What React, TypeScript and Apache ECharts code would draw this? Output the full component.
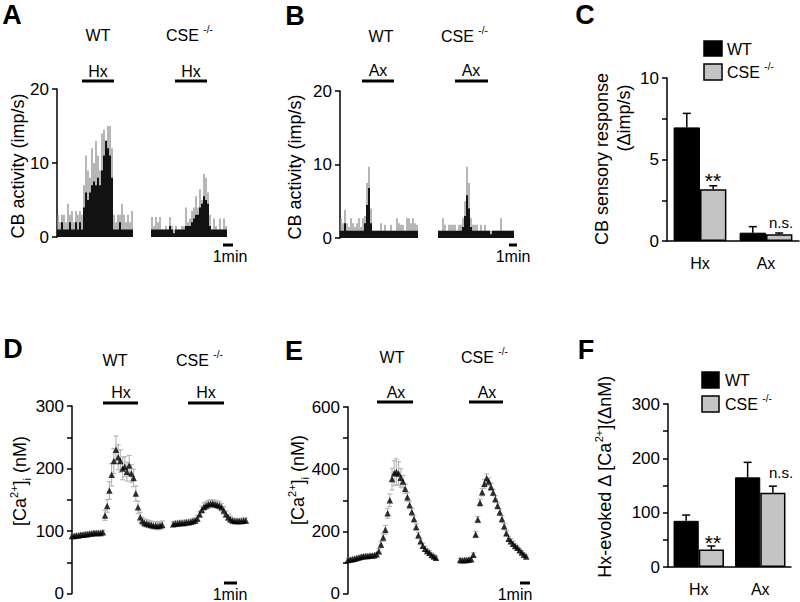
import React, { useEffect, useRef } from 'react';
import * as echarts from 'echarts';

const FONT = "'Liberation Sans', Arial, Helvetica, sans-serif";

// ---------- Panel A: CB activity histograms (imp/s), 2-px bins ----------
const aWtPeak = [3, 2, 3, 3, 2, 4.5, 3, 3.5, 2, 3.5, 3, 3.5, 3, 7, 11, 9, 8, 12, 10, 13, 11, 9, 14, 14.5, 13, 15, 15, 12, 3, 2, 3, 3, 4.5, 3, 2, 3, 2, 3.5];
const aWtCore = [1, 1, 2, 1, 1, 1, 2, 1, 1, 2, 1, 2, 1, 4, 6, 5, 6, 7, 7.5, 7, 8, 7, 9, 11, 13, 12, 11, 8, 1, 1, 1, 2, 1, 1, 1, 1, 1, 1];
const aCsePeak = [2.7, 1.5, 2.7, 2, 2.7, 1, 1, 1.5, 1, 2.7, 1.5, 1, 1.5, 1, 1, 1.5, 1.5, 4, 2, 2.5, 3.5, 4, 5.5, 4, 6.5, 5, 8.5, 8, 6, 3, 1, 2.5, 1.5, 1, 2.5, 1, 2.5, 1.5];
const aCseCore = [1, 1, 1, 1, 1, 1, 1, 1, 1, 1.5, 1, 0.5, 1, 1, 1, 1, 1, 1.5, 1.5, 1.5, 2, 2.5, 3, 3, 4, 4.5, 5.5, 5, 4.5, 1.5, 1, 1, 1, 1, 1, 1, 1, 1];
const aGapBins = 9;

// ---------- Panel B ----------
const bWtPeak = [2.7, 2, 3.8, 2, 1.5, 2.7, 2, 1.5, 2, 2.7, 1.5, 2.7, 3, 7.5, 9.7, 4, 1, 1, 1, 1, 2, 1, 1.8, 1, 1, 1.8, 1, 1, 2.7, 2, 1.8, 1.8, 1, 2.7, 2.7, 2, 2.7, 2, 1.8];
const bWtCore = [1, 1, 2, 1, 1, 1, 1, 1, 1, 1, 1, 1, 2, 4.5, 6.8, 2, 1, 1, 1, 1, 1, 1, 1, 1, 1, 1, 1, 1, 1, 1, 1, 1, 1, 1, 1, 1, 1, 1, 1];
const bCsePeak = [1, 1, 2.7, 1.8, 1, 1.8, 1.8, 1.8, 1.8, 1, 1.8, 1.8, 2.7, 5, 9.7, 7.5, 2.7, 1.8, 1.8, 1.8, 1, 1.8, 1, 1.8, 1, 1, 1, 1, 1, 1, 1, 2.7, 1, 1, 1, 1, 1, 1];
const bCseCore = [1, 1, 1, 1, 1, 1, 1, 1, 1, 1, 1, 1, 1.5, 3, 5.8, 4, 1.5, 1, 1, 1, 1, 1, 1, 1, 1, 1, 0.5, 1, 1, 1, 1, 1, 1, 1, 1, 1, 1, 1];
const bGapBins = 10;

// ---------- Panel C: CB sensory response (Δimp/s) ----------
const groups = ['Hx', 'Ax'];
const cWT = [6.97, 0.51];
const cWTErr = [0.86, 0.37];
const cCSE = [3.17, 0.41];
const cCSEErr = [0.22, 0.08];

// ---------- Panel D: [Ca2+]i (nM), 10-s samples ----------
const SAMPLE_S = 10;
const dWt = [92, 92, 93, 93, 94, 94, 95, 95, 96, 96, 97, 97, 97, 97, 98, 125, 140, 165, 190, 212, 230, 218, 212, 200, 203, 195, 205, 192, 185, 160, 138, 122, 116, 113, 112, 111, 110, 109, 109, 108, 109, 110];
const dWtErr = [3, 3, 3, 3, 3, 3, 3, 3, 3, 3, 3, 3, 3, 3, 3, 8, 10, 14, 18, 20, 22, 20, 18, 18, 16, 15, 16, 14, 14, 12, 10, 8, 6, 6, 6, 6, 6, 6, 6, 6, 6, 6];
const dCseStart = 460;
const dCse = [111, 112, 112, 113, 113, 113, 114, 114, 115, 116, 117, 120, 127, 134, 139, 141, 143, 144, 144, 143, 142, 141, 138, 133, 127, 122, 119, 117, 116, 116, 116, 116, 117, 117];
const dCseErr = [4, 4, 4, 4, 4, 4, 4, 4, 4, 4, 4, 5, 5, 6, 6, 6, 6, 6, 6, 6, 6, 6, 6, 6, 5, 5, 5, 4, 4, 4, 4, 4, 4, 4];

// ---------- Panel E ----------
const eWt = [108, 109, 110, 112, 114, 116, 118, 120, 121, 121, 122, 122, 123, 126, 136, 158, 180, 205, 258, 300, 368, 387, 391, 386, 372, 360, 337, 310, 285, 262, 240, 214, 187, 168, 154, 144, 137, 131, 124, 119, 115];
const eWtErr = [5, 5, 5, 5, 5, 5, 5, 5, 5, 5, 5, 5, 5, 6, 8, 10, 12, 14, 16, 20, 35, 40, 42, 38, 30, 20, 15, 14, 12, 12, 10, 10, 10, 8, 8, 8, 6, 6, 6, 6, 6];
const eCseStart = 510;
const eCse = [108, 107, 108, 108, 109, 110, 125, 190, 238, 292, 326, 353, 371, 360, 343, 325, 304, 282, 261, 240, 216, 194, 176, 168, 160, 153, 147, 139, 132, 125, 119];
const eCseErr = [5, 5, 5, 5, 5, 5, 6, 10, 10, 12, 12, 14, 14, 12, 12, 10, 10, 10, 10, 10, 10, 8, 8, 8, 8, 6, 6, 6, 6, 5, 5];

// ---------- Panel F: Hx-evoked Δ[Ca2+] (ΔnM) ----------
const fWT = [85, 165];
const fWTErr = [10.6, 27.6];
const fCSE = [32, 136.5];
const fCSEErr = [6.7, 12.3];

// ---------------- helpers ----------------
const nulls = (n: number) => Array.from({ length: n }, () => null as number | null);
const cats = (n: number) => Array.from({ length: n }, (_, i) => String(i));
const joinTrace = (a: number[], gap: number, b: number[]) => [...a, ...nulls(gap), ...b];

const aPeak = joinTrace(aWtPeak, aGapBins, aCsePeak);
const aCore = joinTrace(aWtCore, aGapBins, aCseCore);
const bPeak = joinTrace(bWtPeak, bGapBins, bCsePeak);
const bCore = joinTrace(bWtCore, bGapBins, bCseCore);

const TICK_FS = 17;
const NOTE_FS = 16;
const TITLE_FS = 18;

const hiddenCat = (gridIndex: number, n: number) => ({
  type: 'category', gridIndex, data: cats(n), show: false, boundaryGap: true,
});

const yAx = (gridIndex: number, max: number, interval: number, labelEvery: number) => ({
  type: 'value', gridIndex, min: 0, max, interval,
  axisLine: { show: true, onZero: false, lineStyle: { color: '#000', width: 1.5 } },
  axisTick: { show: true, length: 5, lineStyle: { color: '#000', width: 1.5 } },
  splitLine: { show: false },
  axisLabel: {
    fontSize: TICK_FS, color: '#000', margin: 8, fontFamily: FONT,
    formatter: (v: number) => (Math.abs(v % labelEvery) < 1e-6 ? String(v) : ''),
  },
});

const catAx = (gridIndex: number) => ({
  type: 'category', gridIndex, data: groups,
  axisLine: { show: true, lineStyle: { color: '#000', width: 1.5 } },
  axisTick: { show: false },
  axisLabel: { fontSize: NOTE_FS, color: '#000', margin: 14, fontFamily: FONT },
});

const timeAx = (gridIndex: number, max: number) => ({
  type: 'value', gridIndex, min: 0, max, show: false,
});

const traceErrSeries = (xi: number, yi: number, vals: number[], errs: number[], start: number) => ({
  type: 'custom', xAxisIndex: xi, yAxisIndex: yi, silent: true, z: 2,
  data: vals.map((v, i) => [start + i * SAMPLE_S, v, errs[i]]),
  encode: { x: 0, y: 1 },
  renderItem: (_p: any, api: any) => {
    const t = api.value(0), v = api.value(1), e = api.value(2);
    const top = api.coord([t, v + e]);
    const bot = api.coord([t, v - e]);
    const st = { stroke: '#b8b8b8', lineWidth: 1.2 };
    return {
      type: 'group', children: [
        { type: 'line', shape: { x1: top[0], y1: top[1], x2: bot[0], y2: bot[1] }, style: st },
        { type: 'line', shape: { x1: top[0] - 2.5, y1: top[1], x2: top[0] + 2.5, y2: top[1] }, style: st },
        { type: 'line', shape: { x1: bot[0] - 2.5, y1: bot[1], x2: bot[0] + 2.5, y2: bot[1] }, style: st },
      ],
    };
  },
});

const traceSeries = (xi: number, yi: number, vals: number[], start: number) => ({
  type: 'scatter', xAxisIndex: xi, yAxisIndex: yi, z: 3,
  data: vals.map((v, i) => [start + i * SAMPLE_S, v]),
  symbol: 'triangle', symbolSize: 6.5, itemStyle: { color: '#000' },
});

const barErrSeries = (xi: number, yi: number, means: number[], errs: number[], off: number) => ({
  type: 'custom', xAxisIndex: xi, yAxisIndex: yi, silent: true, z: 4,
  data: means.map((m, i) => [i, m, errs[i], off]),
  encode: { x: 0, y: 1 },
  renderItem: (_p: any, api: any) => {
    const band = api.size([1, 0])[0];
    const base = api.coord([api.value(0), api.value(1)]);
    const top = api.coord([api.value(0), api.value(1) + api.value(2)]);
    const cx = base[0] + api.value(3) * band;
    const st = { stroke: '#000', lineWidth: 1.5 };
    return {
      type: 'group', children: [
        { type: 'line', shape: { x1: cx, y1: base[1], x2: cx, y2: top[1] }, style: st },
        { type: 'line', shape: { x1: cx - 4, y1: top[1], x2: cx + 4, y2: top[1] }, style: st },
      ],
    };
  },
});

const barPair = (xi: number, yi: number, wt: number[], cse: number[], width: string) => [
  {
    type: 'bar', name: 'WT', xAxisIndex: xi, yAxisIndex: yi, data: wt, barWidth: width, barGap: '0%',
    itemStyle: { color: '#000', borderColor: '#000', borderWidth: 1 },
  },
  {
    type: 'bar', name: 'CSE -/-', xAxisIndex: xi, yAxisIndex: yi, data: cse, barWidth: width, barGap: '0%',
    itemStyle: { color: '#c4c4c4', borderColor: '#000', borderWidth: 1.5 },
  },
];

// ---------- graphic helpers ----------
const txt = (text: string, x: number, y: number, size: number, align = 'center', extra: any = {}) => ({
  type: 'text', x, y, silent: true,
  style: {
    text, fontSize: size, fontFamily: FONT, fill: '#000',
    align, verticalAlign: 'middle', textAlign: align, textVerticalAlign: 'middle', ...extra,
  },
});
const letter = (t: string, x: number, y: number) => txt(t, x, y, 27, 'center', { fontWeight: 'bold' });
const hbar = (x1: number, x2: number, y: number, w = 3) => ({
  type: 'line', silent: true, shape: { x1, y1: y, x2, y2: y }, style: { stroke: '#000', lineWidth: w },
});
const richBase = (size: number) => ({
  m: { fontSize: size, fontFamily: FONT, fill: '#000', color: '#000', lineHeight: size + 6, verticalAlign: 'middle' },
  s: { fontSize: Math.round(size * 0.6), fontFamily: FONT, fill: '#000', color: '#000', lineHeight: size + 6, verticalAlign: 'top' },
  b: { fontSize: Math.round(size * 0.6), fontFamily: FONT, fill: '#000', color: '#000', lineHeight: size + 6, verticalAlign: 'bottom' },
});
const rich = (text: string, x: number, y: number, size: number, align = 'left', rotation = 0) => ({
  type: 'text', x, y, rotation, silent: true,
  style: {
    text, rich: richBase(size), fontSize: size, fontFamily: FONT, fill: '#000',
    align, verticalAlign: 'middle', textAlign: align, textVerticalAlign: 'middle',
  },
});
const cseTitle = (x: number, y: number) => rich('{m|CSE }{s|-/-}', x, y, NOTE_FS, 'left');
const vtitle = (t: string, x: number, y: number) => ({
  type: 'text', x, y, rotation: Math.PI / 2, silent: true,
  style: { text: t, fontSize: TITLE_FS, fontFamily: FONT, fill: '#000', align: 'center', verticalAlign: 'middle', textAlign: 'center', textVerticalAlign: 'middle' },
});
const box = (x: number, y: number, w: number, h: number, fill: string) => ({
  type: 'rect', silent: true, shape: { x, y, width: w, height: h }, style: { fill, stroke: '#000', lineWidth: 1.5 },
});

const graphics = [
  // Panel A
  letter('A', 12, 15),
  txt('WT', 98, 35, NOTE_FS),
  cseTitle(166, 35),
  txt('Hx', 98, 71, NOTE_FS), hbar(82, 114, 81),
  txt('Hx', 191, 71, NOTE_FS), hbar(175, 207, 81),
  hbar(223, 233, 245), txt('1min', 230, 256, NOTE_FS),
  vtitle('CB activity (imp/s)', 18, 166),
  // Panel B
  letter('B', 295, 16),
  txt('WT', 381, 36, NOTE_FS),
  cseTitle(441, 36),
  txt('Ax', 378, 70, NOTE_FS), hbar(362, 394, 81),
  txt('Ax', 471, 70, NOTE_FS), hbar(455, 488, 81),
  hbar(509, 517, 245), txt('1min', 513, 256, NOTE_FS),
  vtitle('CB activity (imp/s)', 295, 167),
  // Panel C
  letter('C', 585, 15),
  box(704, 41, 18, 15, '#000'), txt('WT', 727, 49, NOTE_FS, 'left'),
  box(704, 64, 18, 16, '#c4c4c4'), rich('{m|CSE }{s|-/-}', 727, 72, NOTE_FS, 'left'),
  txt('**', 713, 180, 21), txt('n.s.', 781, 222, 15),
  vtitle('CB sensory response', 602, 159),
  vtitle('(\u0394imp/s)', 624, 118),
  // Panel D
  letter('D', 13, 349),
  txt('WT', 115, 360, NOTE_FS),
  cseTitle(176, 360),
  txt('Hx', 121, 392, NOTE_FS), hbar(103, 138, 403),
  txt('Hx', 206, 392, NOTE_FS), hbar(188, 224, 403),
  hbar(224, 237, 583), txt('1min', 230, 594, NOTE_FS),
  rich('{m|[Ca}{s|2+}{m|]}{b|i}{m| (nM)}', 20, 481, TITLE_FS, 'center', Math.PI / 2),
  // Panel E
  letter('E', 294, 351),
  txt('WT', 392, 357, NOTE_FS),
  cseTitle(461, 357),
  txt('Ax', 396, 392, NOTE_FS), hbar(377, 413, 402),
  txt('Ax', 487, 392, NOTE_FS), hbar(469, 503, 402),
  hbar(520, 530, 583), txt('1min', 515, 594, NOTE_FS),
  rich('{m|[Ca}{s|2+}{m|]}{b|i}{m| (nM)}', 298, 480, TITLE_FS, 'center', Math.PI / 2),
  // Panel F
  letter('F', 586, 350),
  box(702, 372, 17, 16, '#000'), txt('WT', 725, 380, NOTE_FS, 'left'),
  box(702, 396, 17, 16, '#c4c4c4'), rich('{m|CSE }{s|-/-}', 725, 404, NOTE_FS, 'left'),
  txt('**', 713, 542, 21), txt('n.s.', 781, 472, 15),
  rich('{m|Hx-evoked \u0394 [Ca}{s|2+}{m|](\u0394nM)}', 605, 477, TITLE_FS, 'center', Math.PI / 2),
];

const option: any = {
  animation: false,
  backgroundColor: '#fff',
  textStyle: { fontFamily: FONT, color: '#000' },
  grid: [
    { left: 57, top: 89, width: 170, height: 148 },
    { left: 340, top: 91, width: 174, height: 147 },
    { left: 667, top: 78, width: 132, height: 163 },
    { left: 72, top: 406, width: 178.2, height: 190 },
    { left: 348, top: 407, width: 182.6, height: 189 },
    { left: 668, top: 404, width: 123, height: 163 },
  ],
  xAxis: [
    hiddenCat(0, aPeak.length),
    hiddenCat(0, aCore.length),
    hiddenCat(1, bPeak.length),
    hiddenCat(1, bCore.length),
    catAx(2),
    timeAx(3, 810),
    timeAx(4, 830),
    catAx(5),
  ],
  yAxis: [
    yAx(0, 20, 10, 10),
    yAx(1, 20, 10, 10),
    yAx(2, 10, 2.5, 5),
    yAx(3, 300, 50, 100),
    yAx(4, 600, 100, 200),
    yAx(5, 300, 50, 100),
  ],
  series: [
    { type: 'bar', xAxisIndex: 0, yAxisIndex: 0, data: aPeak, barWidth: 1.3, itemStyle: { color: '#8f8f8f' }, silent: true },
    { type: 'bar', xAxisIndex: 1, yAxisIndex: 0, data: aCore, barWidth: 1.8, itemStyle: { color: '#000' }, silent: true },
    { type: 'bar', xAxisIndex: 2, yAxisIndex: 1, data: bPeak, barWidth: 1.3, itemStyle: { color: '#8f8f8f' }, silent: true },
    { type: 'bar', xAxisIndex: 3, yAxisIndex: 1, data: bCore, barWidth: 1.8, itemStyle: { color: '#000' }, silent: true },
    ...barPair(4, 2, cWT, cCSE, '40%'),
    barErrSeries(4, 2, cWT, cWTErr, -0.2),
    barErrSeries(4, 2, cCSE, cCSEErr, 0.2),
    traceErrSeries(5, 3, dWt, dWtErr, 0),
    traceErrSeries(5, 3, dCse, dCseErr, dCseStart),
    traceSeries(5, 3, dWt, 0),
    traceSeries(5, 3, dCse, dCseStart),
    traceErrSeries(6, 4, eWt, eWtErr, 0),
    traceErrSeries(6, 4, eCse, eCseErr, eCseStart),
    traceSeries(6, 4, eWt, 0),
    traceSeries(6, 4, eCse, eCseStart),
    ...barPair(7, 5, fWT, fCSE, '41%'),
    barErrSeries(7, 5, fWT, fWTErr, -0.205),
    barErrSeries(7, 5, fCSE, fCSEErr, 0.205),
  ],
  graphic: graphics,
};

export default function App() {
  const ref = useRef<HTMLDivElement>(null);
  useEffect(() => {
    if (!ref.current) return;
    const chart = echarts.init(ref.current, null, { renderer: 'svg' });
    chart.setOption(option);
    return () => chart.dispose();
  }, []);
  return (
    <div
      ref={ref}
      style={{ position: 'fixed', left: 0, top: 0, width: 800, height: 602, background: '#fff' }}
    />
  );
}
